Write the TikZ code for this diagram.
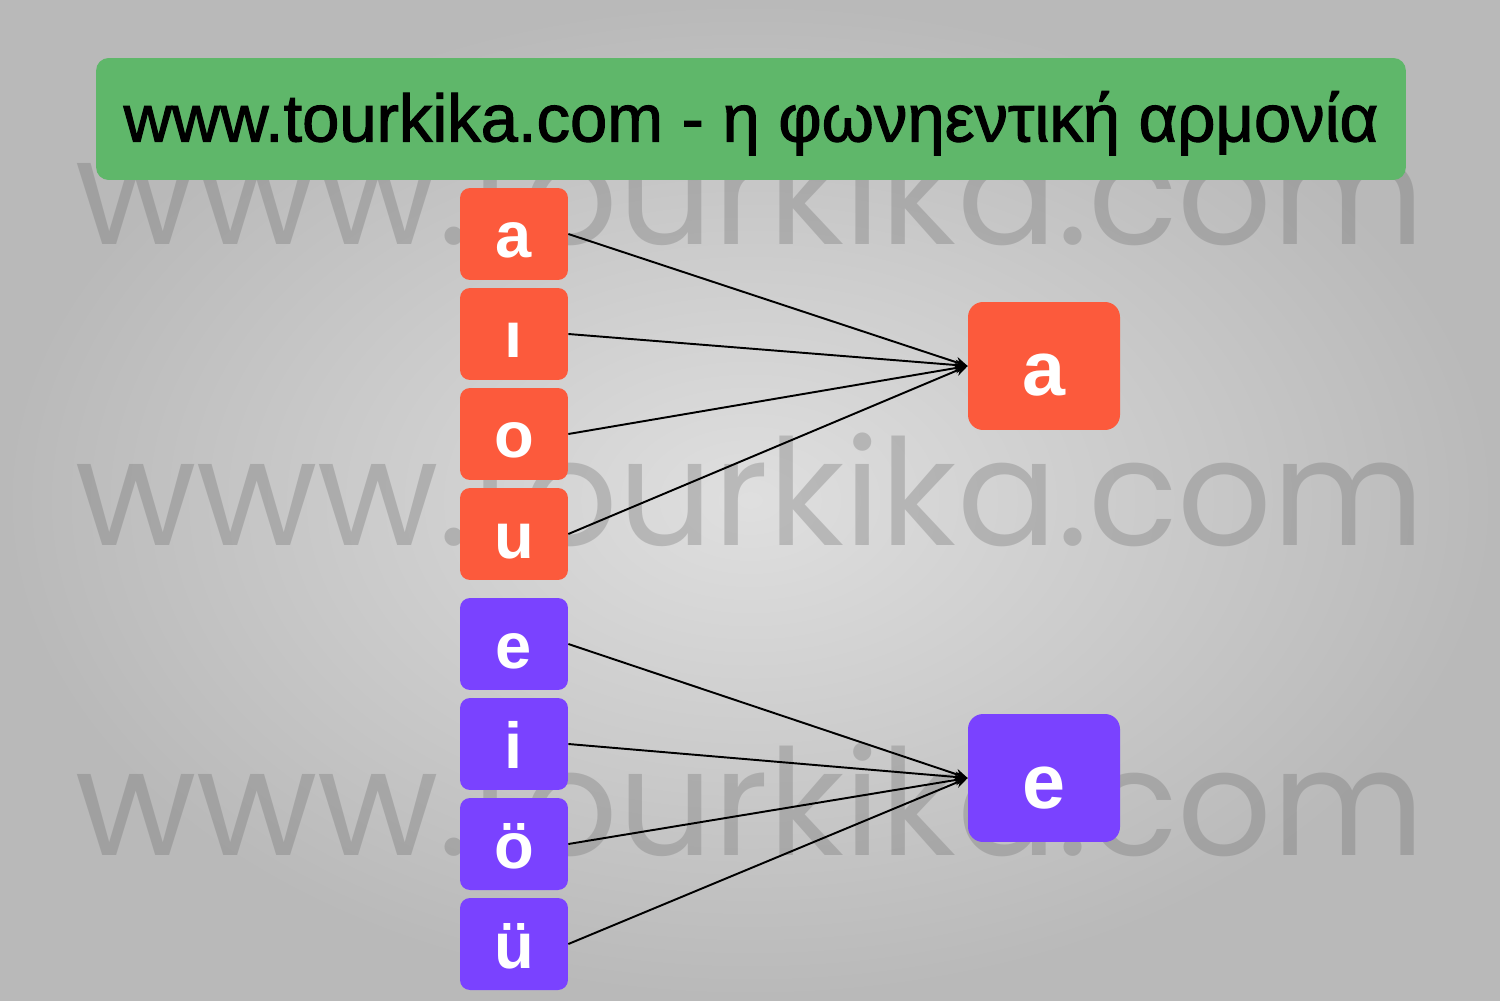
\documentclass[tikz,border=0pt]{standalone}
\usepackage{fontspec}
\setmainfont{Liberation Sans}
\newfontfamily\wmfont{Poppins}
\newfontfamily\titlefont{Liberation Sans}[FakeBold=1.6]
\usetikzlibrary{arrows.meta}
\definecolor{orangeC}{HTML}{FC5A3C}
\definecolor{purpleC}{HTML}{7A42FF}
\definecolor{greenC}{HTML}{5FB76A}
\definecolor{wmC}{HTML}{6E6E6E}
\tikzset{
  lbox/.style={fill=#1, rounded corners=0.2cm, minimum width=2.16cm, minimum height=1.84cm,
    inner sep=0pt, text=white, text height=0.96cm, text depth=0pt,
    font=\fontsize{37}{37}\selectfont\bfseries},
  rbox/.style={fill=#1, rounded corners=0.3cm, minimum width=3.04cm, minimum height=2.56cm,
    inner sep=0pt, text=white, text height=1.2cm, text depth=0pt,
    font=\fontsize{44}{44}\selectfont\bfseries},
  conn/.style={draw=black, line width=1.1pt, -{Stealth[length=7pt,width=6pt]}},
  wmark/.style={text=wmC, opacity=0.32, inner sep=0pt, anchor=base},
}
\begin{document}
\begin{tikzpicture}[x=0.02cm,y=-0.02cm]
\useasboundingbox (0,0) rectangle (1500,1000);
\shade[inner color=gray!25, outer color=gray!55] (0,0) rectangle (1500,1000);
% watermarks
\node[wmark] (w1) at (750,245) {\resizebox{27cm}{!}{\wmfont www.tourkika.com}};
\node[wmark] (w2) at (750,545) {\resizebox{27cm}{!}{\wmfont www.tourkika.com}};
\node[wmark] (w3) at (750,855) {\resizebox{27cm}{!}{\wmfont www.tourkika.com}};
% title
\node[fill=greenC, rounded corners=0.25cm, minimum width=26.2cm, minimum height=2.44cm, inner sep=0pt,
  text height=0.9cm, text depth=0pt] (title) at (751,119)
  {\resizebox{25.1cm}{!}{\titlefont\fontsize{36}{36}\selectfont www.tourkika.com - η φωνηεντική αρμονία}};
% left boxes
\node[lbox=orangeC] (la) at (514,234) {a};
\node[lbox=orangeC] (li) at (514,334) {ı};
\node[lbox=orangeC] (lo) at (514,434) {o};
\node[lbox=orangeC] (lu) at (514,534) {u};
\node[lbox=purpleC] (le) at (514,644) {e};
\node[lbox=purpleC] (lii) at (514,744) {i};
\node[lbox=purpleC] (loo) at (514,844) {ö};
\node[lbox=purpleC] (luu) at (514,944) {ü};
% right boxes
\node[rbox=orangeC] (ra) at (1044,366) {a};
\node[rbox=purpleC] (re) at (1044,778) {e};
% connectors
\foreach \s in {la,li,lo,lu} \draw[conn] (\s.east) -- (ra.west);
\foreach \s in {le,lii,loo,luu} \draw[conn] (\s.east) -- (re.west);
\end{tikzpicture}
\end{document}
